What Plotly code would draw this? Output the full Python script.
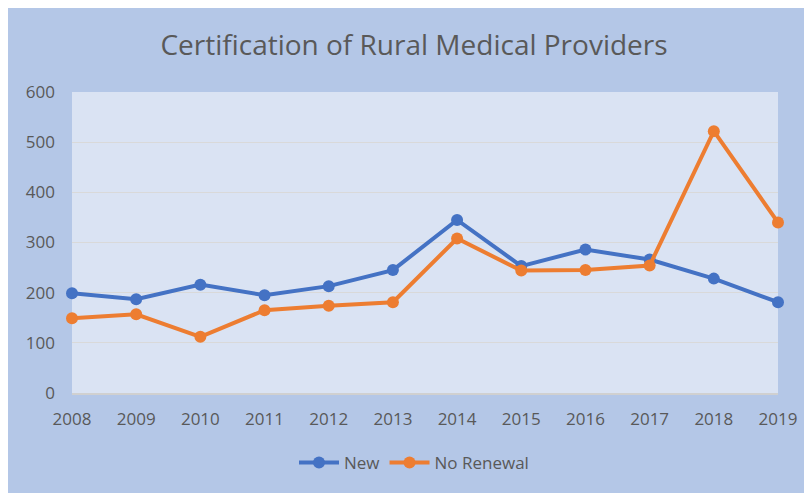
import plotly.graph_objects as go

years = [2008, 2009, 2010, 2011, 2012, 2013, 2014, 2015, 2016, 2017, 2018, 2019]
new_vals = [199, 187, 216, 195, 213, 245, 345, 253, 286, 266, 228, 181]
no_renewal = [149, 157, 112, 165, 174, 181, 308, 244, 245, 254, 522, 340]
y_ticks = [0, 100, 200, 300, 400, 500, 600]

W, H = 812, 493
L, R, T, B = 64, 42, 84, 108
pw, ph = W - L - R, H - T - B

fig = go.Figure()
fig.add_trace(go.Scatter(x=years, y=new_vals, name="New", mode="lines+markers",
                         line=dict(color="#4472C4", width=4),
                         marker=dict(color="#4472C4", size=12),
                         cliponaxis=False))
fig.add_trace(go.Scatter(x=years, y=no_renewal, name="No Renewal", mode="lines+markers",
                         line=dict(color="#ED7D31", width=4),
                         marker=dict(color="#ED7D31", size=12),
                         cliponaxis=False))

font_fam = "Open Sans, sans-serif"
fig.update_layout(
    width=W, height=H,
    margin=dict(l=L, r=R, t=T, b=B, autoexpand=False),
    paper_bgcolor="#B4C7E7",
    plot_bgcolor="#DAE3F3",
    title=dict(text="Certification of Rural Medical Providers",
               x=0.5, xanchor="center", xref="container",
               y=1 - 37 / H, yanchor="middle",
               font=dict(family=font_fam, size=28, color="#595959")),
    font=dict(family=font_fam, color="#595959"),
    showlegend=True,
    legend=dict(orientation="h", x=0.5, xanchor="center", xref="container",
                y=(T + ph - 455) / ph, yanchor="middle",
                font=dict(size=17, color="#595959"),
                itemwidth=40,
                bgcolor="rgba(0,0,0,0)"),
    xaxis=dict(range=[2008, 2019], tickmode="array", tickvals=years,
               ticktext=[str(y) for y in years],
               showgrid=False, zeroline=False,
               showline=True, linecolor="#D0D0D0", linewidth=1.5,
               ticks="", ticklabelstandoff=10,
               tickfont=dict(size=17, color="#595959")),
    yaxis=dict(range=[0, 600], tickmode="array", tickvals=y_ticks,
               showgrid=True, gridcolor="#D9D9D9", gridwidth=1,
               zeroline=False, showline=False, ticks="",
               ticklabelstandoff=16,
               tickfont=dict(size=17, color="#595959")),
)

fig.write_html("out.html")
